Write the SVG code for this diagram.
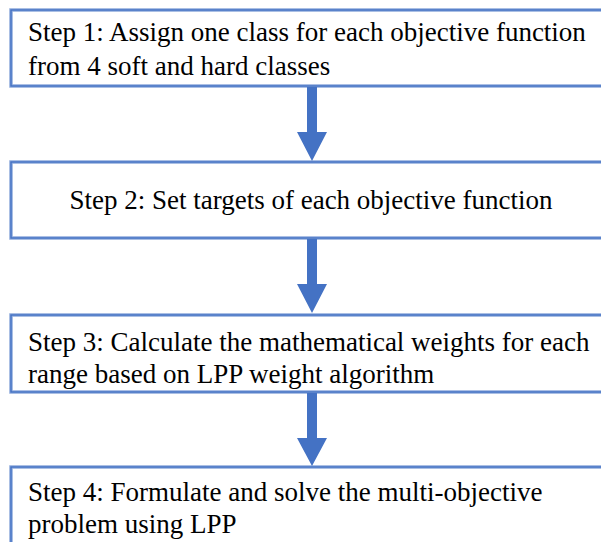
<svg xmlns="http://www.w3.org/2000/svg" width="601" height="542" viewBox="0 0 601 542">
  <defs>
    <style>
      .bg { fill: #ffffff; }
      .box-halo { fill: #ffffff; stroke: #8FAADC; stroke-width: 3.5; }
      .box-line { fill: none; stroke: #4472C4; stroke-width: 1.4; }
      .label { font-family: "Liberation Serif", "Times New Roman", serif; font-size: 27px; fill: #000000; }
      .arrow { fill: #4472C4; }
    </style>
  </defs>
  <rect class="bg" x="0" y="0" width="601" height="542"/>

  <g id="step1">
    <rect class="box-halo" x="11" y="10" width="620" height="76"/>
    <rect class="box-line" x="11" y="10" width="620" height="76"/>
    <text class="label" x="28" y="41">Step 1: Assign one class for each objective function</text>
    <text class="label" x="28" y="75">from 4 soft and hard classes</text>
  </g>

  <g id="step2">
    <rect class="box-halo" x="11" y="162" width="620" height="76"/>
    <rect class="box-line" x="11" y="162" width="620" height="76"/>
    <text class="label" x="311" y="209" text-anchor="middle">Step 2: Set targets of each objective function</text>
  </g>

  <g id="step3">
    <rect class="box-halo" x="11" y="315" width="620" height="77"/>
    <rect class="box-line" x="11" y="315" width="620" height="77"/>
    <text class="label" x="28" y="351">Step 3: Calculate the mathematical weights for each</text>
    <text class="label" x="28" y="383">range based on LPP weight algorithm</text>
  </g>

  <g id="step4">
    <rect class="box-halo" x="11" y="467" width="620" height="90"/>
    <rect class="box-line" x="11" y="467" width="620" height="90"/>
    <text class="label" x="28" y="501">Step 4: Formulate and solve the multi-objective</text>
    <text class="label" x="28" y="533">problem using LPP</text>
  </g>

  <g id="connectors">
    <polygon class="arrow" points="307,87 317,87 317,132 327,132 312,161 297,132 307,132"/>
    <polygon class="arrow" points="307,239 317,239 317,284 327,284 312,313 297,284 307,284"/>
    <polygon class="arrow" points="307,393 317,393 317,438 327,438 312,466 297,438 307,438"/>
  </g>
</svg>
